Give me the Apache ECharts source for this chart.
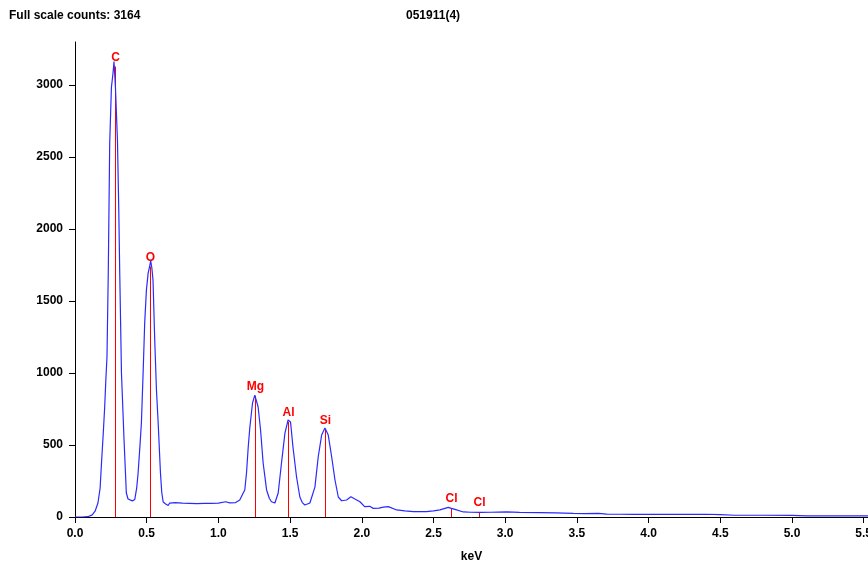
<!DOCTYPE html>
<html>
<head>
<meta charset="utf-8">
<script src="https://cdn.jsdelivr.net/npm/echarts@6/dist/echarts.min.js"></script>
<style>
html, body { margin: 0; padding: 0; background: #fff; }
#eds-chart { width: 868px; height: 561px; }
</style>
</head>
<body>
<div id="eds-chart"></div>
<script>
// spectrum: energy (keV) and counts
const energy = [0.00, 0.05, 0.09, 0.12, 0.14, 0.16, 0.175, 0.186, 0.197, 0.207, 0.215, 0.223, 0.232, 0.242, 0.254, 0.265, 0.272, 0.282, 0.296, 0.305, 0.312, 0.324, 0.342, 0.358, 0.37, 0.382, 0.40, 0.417, 0.43, 0.44, 0.452, 0.463, 0.475, 0.486, 0.498, 0.51, 0.52, 0.528, 0.536, 0.544, 0.556, 0.568, 0.58, 0.596, 0.605, 0.615, 0.63, 0.65, 0.66, 0.70, 0.75, 0.80, 0.85, 0.90, 0.95, 1.00, 1.05, 1.08, 1.12, 1.149, 1.173, 1.184, 1.196, 1.208, 1.219, 1.238, 1.254, 1.262, 1.277, 1.294, 1.312, 1.336, 1.355, 1.37, 1.394, 1.417, 1.44, 1.464, 1.486, 1.503, 1.52, 1.545, 1.568, 1.585, 1.603, 1.638, 1.673, 1.696, 1.72, 1.743, 1.766, 1.79, 1.813, 1.836, 1.859, 1.894, 1.924, 1.952, 1.987, 2.02, 2.055, 2.08, 2.12, 2.15, 2.185, 2.243, 2.30, 2.36, 2.45, 2.50, 2.545, 2.603, 2.625, 2.65, 2.708, 2.76, 2.825, 2.90, 3.01, 3.10, 3.243, 3.35, 3.475, 3.55, 3.65, 3.708, 3.80, 3.894, 4.0, 4.2, 4.4, 4.5, 4.6, 4.8, 5.0, 5.1, 5.3, 5.53];
const counts = [0, 0, 2, 15, 40, 97, 200, 396, 580, 764, 950, 1111, 1694, 2597, 2986, 3083, 3164, 2986, 2618, 2150, 1694, 1000, 535, 167, 125, 118, 112, 122, 200, 306, 480, 653, 1000, 1347, 1576, 1694, 1740, 1780, 1730, 1646, 1229, 882, 653, 306, 170, 104, 92, 80, 97, 100, 97, 95, 93, 95, 94, 96, 106, 98, 100, 118, 167, 188, 306, 486, 620, 792, 847, 840, 764, 604, 375, 188, 130, 106, 97, 167, 375, 583, 674, 660, 486, 278, 139, 100, 83, 97, 208, 417, 569, 618, 569, 417, 257, 139, 113, 118, 141, 125, 106, 72, 74, 60, 62, 68, 72, 49, 42, 37, 37, 42, 49, 67, 60, 53, 35, 33, 32, 33, 35, 32, 30, 28, 25, 24, 25, 20, 19, 18, 19, 18, 19, 17, 12, 12, 11, 8, 8, 8];

// element markers
const elements = ['C', 'O', 'Mg', 'Al', 'Si', 'Cl', 'Cl'];
const elementEnergy = [0.277, 0.525, 1.254, 1.487, 1.740, 2.622, 2.815];
const elementHeight = [3130, 1740, 840, 660, 610, 62, 35];

const fullScale = 3164;
const sampleName = '051911(4)';

const font = 'Liberation Sans, Arial, sans-serif';

let myChart = echarts.init(document.getElementById('eds-chart'));

myChart.setOption({
    animation: false,
    title: [
        {
            text: 'Full scale counts: ' + fullScale,
            left: 9,
            top: 10,
            padding: 0,
            textStyle: { fontSize: 12, fontWeight: 'bold', color: '#000', fontFamily: font }
        },
        {
            text: sampleName,
            left: 406,
            top: 10,
            padding: 0,
            textStyle: { fontSize: 12, fontWeight: 'bold', color: '#000', fontFamily: font }
        }
    ],
    grid: {
        left: 75,
        right: 0,
        top: 42,
        bottom: 44,
        outerBoundsMode: 'none',
        containLabel: false
    },
    xAxis: {
        type: 'value',
        min: 0,
        max: 5.53,
        interval: 0.5,
        name: 'keV',
        nameLocation: 'middle',
        nameGap: 34,
        nameTextStyle: { fontSize: 12, fontWeight: 'bold', color: '#000', fontFamily: font },
        splitLine: { show: false },
        axisLine: { lineStyle: { color: '#000', width: 1 } },
        axisTick: { length: 6, lineStyle: { color: '#000' } },
        axisLabel: {
            showMaxLabel: false,
            margin: 11,
            fontSize: 12,
            fontWeight: 'bold',
            color: '#000',
            fontFamily: font,
            formatter: v => v.toFixed(1)
        }
    },
    yAxis: {
        type: 'value',
        min: 0,
        max: 3300,
        interval: 500,
        splitLine: { show: false },
        axisLine: { show: true, lineStyle: { color: '#000', width: 1 } },
        axisTick: { show: true, length: 6, lineStyle: { color: '#000' } },
        axisLabel: {
            showMaxLabel: false,
            margin: 12,
            fontSize: 12,
            fontWeight: 'bold',
            color: '#000',
            fontFamily: font,
            formatter: v => String(v)
        }
    },
    series: [
        {
            type: 'line',
            data: energy.map((e, i) => [e, counts[i]]),
            showSymbol: false,
            lineStyle: { color: '#2a2aff', width: 1.2 }
        },
        {
            // red element lines with labels
            type: 'custom',
            silent: true,
            z: 3,
            data: elements.map((name, i) => [elementEnergy[i], elementHeight[i], name]),
            renderItem: function (params, api) {
                const base = api.coord([api.value(0), 0]);
                const top = api.coord([api.value(0), api.value(1)]);
                const x = Math.round(base[0]) + 0.5;
                return {
                    type: 'group',
                    children: [
                        {
                            type: 'line',
                            shape: { x1: x, y1: base[1], x2: x, y2: top[1] },
                            style: { stroke: '#ff0000', lineWidth: 1 }
                        },
                        {
                            type: 'text',
                            style: {
                                x: x,
                                y: top[1] - 3,
                                text: api.value(2),
                                fill: '#ff0000',
                                font: 'bold 12px ' + font,
                                align: 'center',
                                verticalAlign: 'bottom'
                            }
                        }
                    ]
                };
            }
        }
    ]
});
</script>
</body>
</html>
